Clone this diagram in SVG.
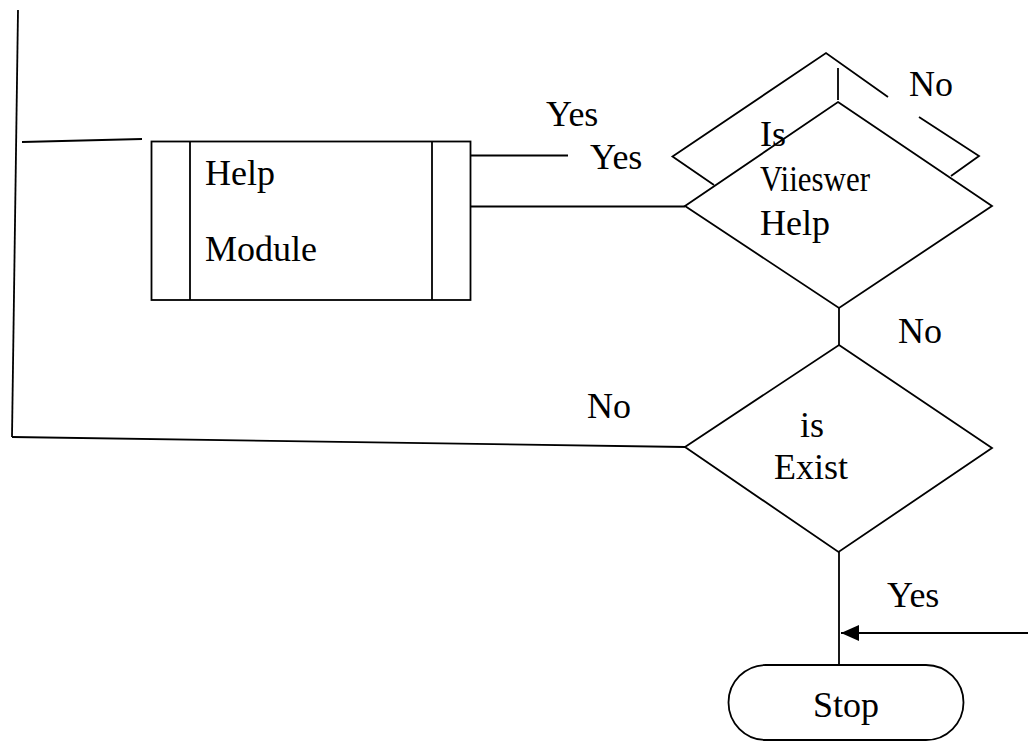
<svg xmlns="http://www.w3.org/2000/svg" width="1028" height="741" viewBox="0 0 1028 741">
<style>
.ln{stroke:#000;stroke-width:1.8;fill:none;stroke-linecap:butt}
.shape{stroke:#000;stroke-width:1.8;fill:#fff}
.t{font-family:"Liberation Serif","Times New Roman",serif;font-size:36px;fill:#000}
</style>
<defs>
<marker id="arrL" viewBox="0 0 18 16" markerWidth="18" markerHeight="16" refX="18" refY="8" orient="auto" markerUnits="userSpaceOnUse">
<path d="M0,0 L18,8 L0,16 Z" fill="#000"/>
</marker>
</defs>
<rect width="1028" height="741" fill="#fff"/>
<g id="connectors">
<line class="ln" x1="18" y1="10" x2="12" y2="437"/>
<line class="ln" x1="22" y1="142" x2="142" y2="139"/>
<line class="ln" x1="12" y1="437" x2="685" y2="447"/>
<line class="ln" x1="471" y1="155.5" x2="568" y2="155.5"/>
<line class="ln" x1="471" y1="206.5" x2="685" y2="206.5"/>
<line class="ln" x1="838" y1="68" x2="838" y2="100"/>
<line class="ln" x1="839" y1="308" x2="839" y2="345"/>
<line class="ln" x1="839" y1="552" x2="839" y2="665"/>
<line class="ln" x1="1028" y1="633" x2="841" y2="633" marker-end="url(#arrL)"/>
</g>
<g id="back-diamond">
<polyline class="ln" points="714,185 672.5,156.5 826,53 888,97"/>
<polyline class="ln" points="919,117 979,156 951,176"/>
</g>
<g id="help-module">
<rect class="shape" x="151.5" y="141.5" width="319" height="158.5"/>
<line class="ln" x1="190" y1="141.5" x2="190" y2="300"/>
<line class="ln" x1="432" y1="141.5" x2="432" y2="300"/>
<text class="t" x="205" y="185">Help</text>
<text class="t" x="205" y="261">Module</text>
</g>
<g id="is-viewer-help">
<path class="shape" d="M838,102 L992,206 L839,308 L685,206 Z"/>
<text class="t" x="760" y="146">Is</text>
<text class="t" x="760" y="191" textLength="110" lengthAdjust="spacingAndGlyphs">Viieswer</text>
<text class="t" x="760" y="235">Help</text>
</g>
<g id="is-exist">
<path class="shape" d="M839,345 L992,448 L838.5,552 L685,447 Z"/>
<text class="t" x="812" y="437" text-anchor="middle">is</text>
<text class="t" x="811" y="479" text-anchor="middle">Exist</text>
</g>
<g id="stop">
<rect class="shape" x="728.5" y="665" width="235" height="75" rx="37.5" ry="37.5"/>
<text class="t" x="846" y="717" text-anchor="middle">Stop</text>
</g>
<g id="labels">
<text class="t" x="546" y="126">Yes</text>
<text class="t" x="590" y="169">Yes</text>
<text class="t" x="909" y="96">No</text>
<text class="t" x="898" y="343">No</text>
<text class="t" x="587" y="418">No</text>
<text class="t" x="887" y="607">Yes</text>
</g>
</svg>
